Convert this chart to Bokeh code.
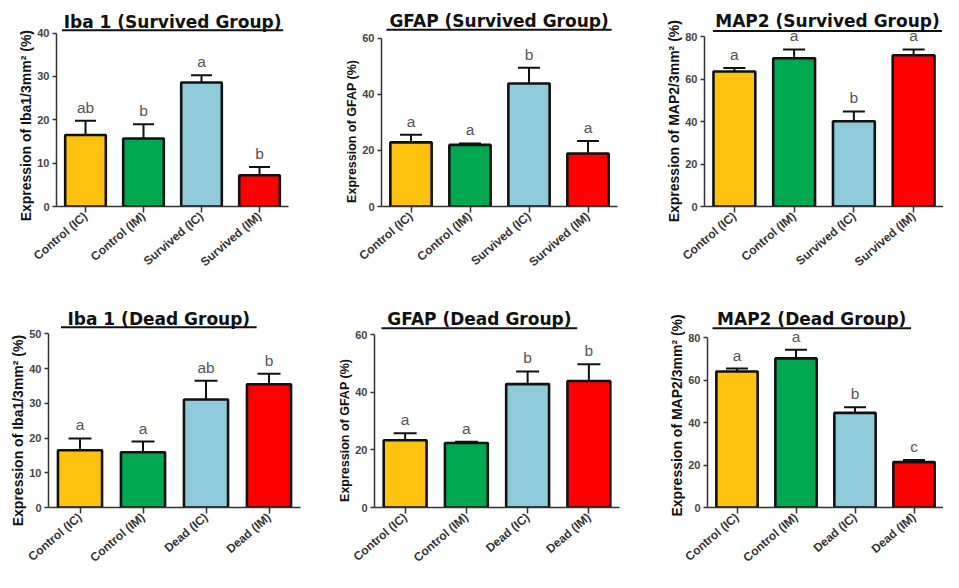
import math
from bokeh.plotting import figure
from bokeh.layouts import column, row
from bokeh.models import ColumnDataSource, FixedTicker, Whisker, Title, TeeHead
from bokeh.core.properties import value
from bokeh.embed import file_html
from bokeh.resources import INLINE

# ---------------- data ----------------
survived_categories = ["Control (IC)", "Control (IM)", "Survived (IC)", "Survived (IM)"]
dead_categories = ["Control (IC)", "Control (IM)", "Dead (IC)", "Dead (IM)"]
bar_colors = ["#FFC20E", "#00A84F", "#90CBDC", "#FF0000"]

iba1_survived_mean = [16.5, 15.7, 28.6, 7.2]
iba1_survived_upper = [19.8, 19.0, 30.3, 9.1]
iba1_survived_letters = ["ab", "b", "a", "b"]

gfap_survived_mean = [22.9, 22.0, 43.9, 18.9]
gfap_survived_upper = [25.6, 22.5, 49.5, 23.4]
gfap_survived_letters = ["a", "a", "b", "a"]

map2_survived_mean = [63.6, 69.9, 40.2, 71.3]
map2_survived_upper = [65.3, 74.0, 44.8, 74.0]
map2_survived_letters = ["a", "a", "b", "a"]

iba1_dead_mean = [16.5, 15.9, 31.1, 35.5]
iba1_dead_upper = [19.9, 19.0, 36.5, 38.5]
iba1_dead_letters = ["a", "a", "ab", "b"]

gfap_dead_mean = [23.4, 22.4, 42.9, 44.0]
gfap_dead_upper = [25.8, 22.9, 47.3, 49.8]
gfap_dead_letters = ["a", "a", "b", "b"]

map2_dead_mean = [64.1, 70.3, 44.6, 21.4]
map2_dead_upper = [65.5, 74.4, 47.3, 22.4]
map2_dead_letters = ["a", "a", "b", "c"]

iba1_survived_ticks = [0, 10, 20, 30, 40]
iba1_dead_ticks = [0, 10, 20, 30, 40, 50]
gfap_ticks = [0, 20, 40, 60]
map2_ticks = [0, 20, 40, 60, 80]

# ---------------- layout helpers ----------------
W, H = 943, 572
SX, SY = W / 959.0, H / 588.0
col_px = [round(e * SX) for e in [0, 320, 639, 959]]
row_px = [round(e * SY) for e in [0, 294, 588]]
MIN_BOTTOM = 64
LABEL_SHIFT = 10

INK = "#111111"


def make_panel(ci, ri, title, ylabel, cats, means, uppers, letters, ticks, spec):
    L, R, B, T, tcx, tw, tcy, uy, lab_start, lab_size = spec
    fx0, fy0 = col_px[ci], row_px[ri]
    fig_w = col_px[ci + 1] - fx0
    fig_h = row_px[ri + 1] - fy0

    def px(xr):
        return xr * SX - fx0

    def py(yr):
        return yr * SY - fy0

    left = round(px(L))
    right = min(round(px(R)), fig_w)
    bottom_y = min(round(py(B)), fig_h - MIN_BOTTOM)
    top_y = py(T)
    frame_w = right - left
    ymax = ticks[-1]
    ppu = (bottom_y - top_y) / ymax
    y_end = bottom_y / ppu
    spacing = frame_w / 4.0

    p = figure(width=fig_w, height=fig_h, x_range=(-0.5, 3.5), y_range=(0, y_end),
               min_border_left=left, min_border_right=fig_w - right,
               min_border_top=0, min_border_bottom=fig_h - bottom_y,
               output_backend="svg", toolbar_location=None, tools="")
    p.outline_line_color = None
    p.grid.visible = False
    p.background_fill_color = "white"
    p.border_fill_color = "white"

    src = ColumnDataSource(dict(x=list(range(len(cats))), mean=means, upper=uppers,
                                letter=letters, color=bar_colors))
    p.vbar(x="x", top="mean", bottom=0, width=0.7, fill_color="color",
           line_color=INK, line_width=2.6, source=src)
    wh = Whisker(base="x", lower="mean", upper="upper", source=src,
                 line_color=INK, line_width=2,
                 upper_head=TeeHead(size=round(0.37 * spacing), line_color=INK, line_width=2),
                 lower_head=None)
    p.add_layout(wh)
    p.text(x="x", y="upper", text="letter", source=src, text_align="center",
           text_baseline="bottom", y_offset=-5, text_font=value("Liberation Sans"),
           text_font_size="15.5px", text_color="#555555")

    # title (underlined) drawn inside the extended frame
    tx = (px(tcx) - left) / spacing - 0.5
    ty = (bottom_y - py(tcy)) / ppu
    half = tw * SX / 2.0 / spacing
    uyd = (bottom_y - py(uy)) / ppu
    p.text(x=[tx], y=[ty], text=[title], text_align="center", text_baseline="middle",
           text_font=value("DejaVu Sans"), text_font_style="bold",
           text_font_size="17px", text_color=INK)
    p.segment(x0=[tx - half], y0=[uyd], x1=[tx + half], y1=[uyd],
              line_color=INK, line_width=2)

    # axes
    p.yaxis.ticker = FixedTicker(ticks=ticks)
    p.yaxis.bounds = (0, ymax)
    p.xaxis.ticker = FixedTicker(ticks=list(range(len(cats))))
    p.xaxis.major_label_overrides = {i: c for i, c in enumerate(cats)}
    p.xaxis.major_label_orientation = 0.71
    for ax in p.axis:
        ax.axis_line_color = "#333333"
        ax.axis_line_width = 1.5
        ax.major_tick_line_color = "#333333"
        ax.major_tick_line_width = 1.5
        ax.major_tick_in = 0
        ax.minor_tick_line_color = None
        ax.major_label_text_font = "Liberation Sans"
        ax.major_label_text_font_style = "bold"
    p.yaxis.major_tick_out = 4
    p.yaxis.major_label_text_font_size = "11px"
    p.yaxis.major_label_text_color = "#444444"
    p.yaxis.major_label_standoff = 3
    p.xaxis.major_tick_out = 6
    p.xaxis.major_label_text_font_size = "12px"
    p.xaxis.major_label_text_color = "#333333"
    p.xaxis.major_label_standoff = 2

    yl = Title(text=ylabel, align="left",
               offset=(B - lab_start) * SY - LABEL_SHIFT,
               text_font="Liberation Sans", text_font_size=lab_size,
               text_font_style="bold", text_color=INK, standoff=2)
    p.add_layout(yl, "left")
    return p


# spec (reference pixels): frame left, frame right, y=0 line, top tick line,
# title centre x, title width, title centre y, underline y, y-label start, y-label size
p1 = make_panel(0, 0, "Iba 1 (Survived Group)", "Expression of Iba1/3mm\u00b2 (%)",
                survived_categories, iba1_survived_mean, iba1_survived_upper,
                iba1_survived_letters, iba1_survived_ticks,
                (57, 293, 215, 34, 175, 225, 22, 31, 220, "14px"))
p2 = make_panel(1, 0, "GFAP (Survived Group)", "Expression of GFAP (%)",
                survived_categories, gfap_survived_mean, gfap_survived_upper,
                gfap_survived_letters, gfap_ticks,
                (387, 627, 212, 39, 507, 229, 21, 30, 198, "12.5px"))
p3 = make_panel(2, 0, "MAP2 (Survived Group)", "Expression of MAP2/3mm\u00b2 (%)",
                survived_categories, map2_survived_mean, map2_survived_upper,
                map2_survived_letters, map2_ticks,
                (716, 962, 216, 38, 841, 233, 22, 32, 222, "14px"))
p4 = make_panel(0, 1, "Iba 1 (Dead Group)", "Expression of Iba1/3mm\u00b2 (%)",
                dead_categories, iba1_dead_mean, iba1_dead_upper,
                iba1_dead_letters, iba1_dead_ticks,
                (49, 305, 526, 343, 161, 199, 328, 336, 535, "14px"))
p5 = make_panel(1, 1, "GFAP (Dead Group)", "Expression of GFAP (%)",
                dead_categories, gfap_dead_mean, gfap_dead_upper,
                gfap_dead_letters, gfap_ticks,
                (380, 630, 523, 344, 487, 199, 328, 337, 507, "12.5px"))
p6 = make_panel(2, 1, "MAP2 (Dead Group)", "Expression of MAP2/3mm\u00b2 (%)",
                dead_categories, map2_dead_mean, map2_dead_upper,
                map2_dead_letters, map2_ticks,
                (719, 962, 528, 347, 825, 202, 328, 337, 527, "14px"))

layout = column(row(p1, p2, p3), row(p4, p5, p6))
open("out.html", "w").write(file_html(layout, INLINE))
